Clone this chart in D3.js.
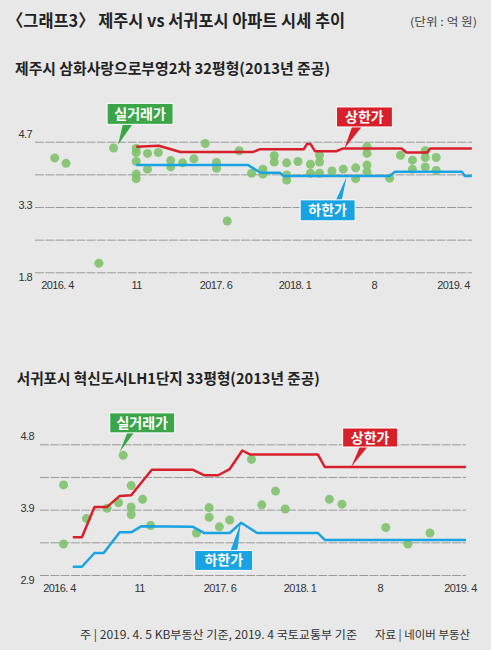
<!DOCTYPE html>
<html>
<head>
<meta charset="utf-8">
<script src="https://cdn.jsdelivr.net/npm/d3@7"></script>
<style>
  html, body { margin: 0; padding: 0; background: #e8e8e8; }
  svg { display: block; }
  text { font-family: "Noto Sans CJK KR", "Noto Sans", sans-serif; }
  .tick text { font-family: "Liberation Sans", Arial, sans-serif; font-size: 11px; fill: #333; letter-spacing: -0.6px; }
</style>
</head>
<body>
<script>
// x values are months counted from 2016.4 (=0) to 2019.4 (=36)
const xTickMonths = [0, 7, 14, 21, 28, 36];
const xTickLabels = ['2016. 4', '11', '2017. 6', '2018. 1', '8', '2019. 4'];

// 제주시 삼화사랑으로부영2차 32평형
const jejuTicks = [1.8, 2.525, 3.25, 3.975, 4.7];
const jejuTickLabels = ['1.8', '', '3.3', '', '4.7'];
const jejuUpper = [[7, 4.59], [9, 4.61], [10.9, 4.47], [17.3, 4.47], [17.9, 4.53], [21.8, 4.53], [22.1, 4.65],
  [22.4, 4.65], [22.8, 4.49], [24.7, 4.49], [25.3, 4.55], [30.8, 4.55], [31.3, 4.46], [33.4, 4.46],
  [33.7, 4.55], [37.9, 4.55]];
const jejuLower = [[7, 4.18], [16.9, 4.18], [18.0, 4.01], [19.7, 4.01], [20.0, 3.94], [29.6, 3.94],
  [30.1, 4.03], [36.9, 4.03], [37.2, 3.94], [37.9, 3.94]];
const jejuDeals = [[-0.2, 4.34], [0.8, 4.22], [3.7, 2.0], [5.0, 4.56], [7.0, 4.55], [7.0, 4.46], [7.0, 4.26],
  [7.0, 3.98], [7.0, 3.88], [8.0, 4.44], [8.0, 4.09], [8.95, 4.46], [10.05, 4.28], [10.05, 4.14],
  [11.1, 4.23], [12.1, 4.32], [13.1, 4.66], [14.1, 4.24], [14.1, 4.11], [15.05, 2.94], [16.1, 4.5],
  [17.2, 4.0], [18.2, 4.09], [18.2, 3.98], [19.2, 4.39], [19.2, 4.25], [20.3, 4.23], [20.3, 3.96],
  [20.3, 3.85], [21.3, 4.26], [22.4, 4.2], [22.4, 4.0], [23.2, 4.4], [23.2, 4.25], [23.2, 4.0],
  [24.3, 4.05], [25.3, 4.09], [26.4, 4.12], [26.4, 3.88], [27.4, 4.59], [27.4, 4.44], [27.4, 4.18],
  [27.4, 4.03], [29.6, 3.89], [30.7, 4.4], [31.9, 4.29], [31.9, 4.09], [33.2, 4.5], [33.2, 4.35],
  [33.2, 4.14], [34.3, 4.35], [34.3, 4.06]];

// 서귀포시 혁신도시LH1단지 33평형
const seoTicks = [2.9, 3.375, 3.85, 4.325, 4.8];
const seoTickLabels = ['2.9', '', '3.9', '', '4.8'];
const seoUpper = [[1.2, 3.45], [2.0, 3.45], [3.1, 3.89], [4.2, 3.89], [5.3, 4.05], [6.3, 4.06], [8.1, 4.43],
  [11.7, 4.43], [12.7, 4.35], [13.9, 4.35], [14.9, 4.44], [16.0, 4.71], [16.7, 4.65], [22.6, 4.65],
  [23.2, 4.47], [36.6, 4.47]];
const seoLower = [[1.2, 3.02], [2.0, 3.02], [3.1, 3.22], [3.9, 3.22], [5.3, 3.52], [6.3, 3.52], [7.2, 3.61],
  [11.7, 3.6], [12.7, 3.51], [14.9, 3.51], [15.9, 3.66], [17.3, 3.51], [22.6, 3.51], [23.2, 3.41],
  [36.6, 3.41]];
const seoDeals = [[0.4, 4.21], [0.4, 3.35], [2.4, 3.72], [4.2, 3.87], [5.2, 3.95], [5.6, 4.64], [6.3, 4.2],
  [6.3, 3.89], [6.3, 3.78], [7.3, 4.0], [8.0, 3.62], [12.0, 3.51], [13.1, 3.88], [13.1, 3.74],
  [14.0, 3.6], [14.9, 3.7], [16.8, 4.58], [17.7, 3.92], [18.9, 4.12], [19.75, 3.86], [23.6, 4.0],
  [24.7, 3.93], [28.6, 3.59], [30.8, 3.35], [33.0, 3.51]];

const W = 491, H = 650;
const green = '#3ba548', red = '#d7202a', blue = '#19a3e2';

const svg = d3.select('body').append('svg').attr('width', W).attr('height', H);
svg.append('rect').attr('width', W).attr('height', H).attr('fill', '#e8e8e8');

svg.append('text').attr('x', 7).attr('y', 27)
  .attr('font-size', 17).attr('font-weight', 700).attr('fill', '#222')
  .attr('textLength', 338).attr('lengthAdjust', 'spacingAndGlyphs')
  .text('〈그래프3〉 제주시 vs 서귀포시 아파트 시세 추이');
svg.append('text').attr('x', 410).attr('y', 26)
  .attr('font-size', 11).attr('fill', '#444')
  .attr('textLength', 67).attr('lengthAdjust', 'spacingAndGlyphs')
  .text('(단위 : 억 원)');

function drawChart(c) {
  const g = svg.append('g');
  g.append('text').attr('x', c.titleX).attr('y', c.titleY)
    .attr('font-size', 15).attr('font-weight', 700).attr('fill', '#222')
    .attr('textLength', c.titleW).attr('lengthAdjust', 'spacingAndGlyphs')
    .text(c.title);

  const x = d3.scaleLinear()
    .domain(xTickMonths)
    .range(xTickMonths.map((d, i) => c.x0 + i * c.step));
  const y = d3.scaleLinear().domain([c.ticks[0], c.ticks[4]]).range([c.bottom, c.top]);

  const yAxis = d3.axisLeft(y).tickValues(c.ticks)
    .tickFormat((d, i) => c.tickLabels[i])
    .tickSizeInner(-(c.right - c.left)).tickSizeOuter(0).tickPadding(c.pad);
  const ya = g.append('g').attr('transform', `translate(${c.left},0)`).call(yAxis);
  ya.select('.domain').remove();
  ya.selectAll('.tick line').attr('stroke', '#9a9a9a').attr('stroke-dasharray', '9,1.3');
  const labelShift = [5, 0, -2, 0, -8];
  ya.selectAll('.tick text').attr('y', (d, i) => labelShift[i]);

  const xAxis = d3.axisBottom(x).tickValues(xTickMonths)
    .tickFormat((d, i) => xTickLabels[i]).tickSize(0).tickPadding(9);
  const xa = g.append('g').attr('transform', `translate(0,${c.bottom})`).call(xAxis);
  xa.select('.domain').remove();

  g.append('g').selectAll('circle').data(c.deals).join('circle')
    .attr('cx', d => x(d[0])).attr('cy', d => y(d[1])).attr('r', 4.5)
    .attr('fill', '#7fc26b').attr('fill-opacity', 0.9);

  const line = d3.line().x(d => x(d[0])).y(d => y(d[1]));
  g.append('path').attr('d', line(c.upper)).attr('fill', 'none')
    .attr('stroke', red).attr('stroke-width', 2.5).attr('stroke-linejoin', 'round');
  g.append('path').attr('d', line(c.lower)).attr('fill', 'none')
    .attr('stroke', blue).attr('stroke-width', 2.5).attr('stroke-linejoin', 'round');

  c.callouts.forEach(o => {
    const tx = x(o.tip[0]), ty = y(o.tip[1]);
    const cx = tx + o.dx, cy = ty + o.dy;
    const ey = o.dy < 0 ? cy + o.h / 2 - 1 : cy - o.h / 2 + 1;
    g.append('path')
      .attr('d', `M${cx + o.base[0]},${ey}L${tx},${ty}L${cx + o.base[1]},${ey}Z`)
      .attr('fill', o.color);
    g.append('rect').attr('x', cx - o.w / 2).attr('y', cy - o.h / 2)
      .attr('width', o.w).attr('height', o.h)
      .attr('fill', o.color).attr('stroke', '#fff').attr('stroke-width', 1);
    g.append('text').attr('x', cx).attr('y', cy + 5)
      .attr('text-anchor', 'middle').attr('font-size', 14).attr('font-weight', 700)
      .attr('fill', '#fff').text(o.label);
  });
}

drawChart({
  title: '제주시 삼화사랑으로부영2차 32평형(2013년 준공)', titleX: 15, titleY: 74, titleW: 315,
  top: 141.7, bottom: 272.3, left: 35, right: 472, x0: 57, step: 79.2, pad: 3,
  ticks: jejuTicks, tickLabels: jejuTickLabels,
  upper: jejuUpper, lower: jejuLower, deals: jejuDeals,
  callouts: [
    {label: '실거래가', color: green, tip: [5.4, 4.63], dx: 22, dy: -31, w: 66, h: 21, base: [-17, -7]},
    {label: '상한가', color: red, tip: [25.4, 4.55], dx: 20, dy: -31.5, w: 56, h: 20, base: [-12, -2]},
    {label: '하한가', color: blue, tip: [25.6, 3.92], dx: -19, dy: 33.5, w: 55, h: 21, base: [8, 14]}
  ]
});

drawChart({
  title: '서귀포시 혁신도시LH1단지 33평형(2013년 준공)', titleX: 16.7, titleY: 384, titleW: 303,
  top: 444.3, bottom: 575, left: 40, right: 466, x0: 59, step: 80.2, pad: 6,
  ticks: seoTicks, tickLabels: seoTickLabels,
  upper: seoUpper, lower: seoLower, deals: seoDeals,
  callouts: [
    {label: '실거래가', color: green, tip: [5.3, 4.69], dx: 22.5, dy: -29, w: 65, h: 20, base: [-14.5, -7.5]},
    {label: '상한가', color: red, tip: [25.5, 4.47], dx: 19, dy: -29.5, w: 55, h: 19, base: [-10, -2]},
    {label: '하한가', color: blue, tip: [15.86, 3.66], dx: -17, dy: 37.7, w: 58, h: 20, base: [6.5, 13.5]}
  ]
});

svg.append('text').attr('x', 80).attr('y', 639)
  .attr('font-size', 11.5).attr('fill', '#333')
  .attr('textLength', 277).attr('lengthAdjust', 'spacingAndGlyphs')
  .text('주 | 2019. 4. 5 KB부동산 기준, 2019. 4 국토교통부 기준');
svg.append('text').attr('x', 375).attr('y', 639)
  .attr('font-size', 11.5).attr('fill', '#333')
  .attr('textLength', 95).attr('lengthAdjust', 'spacingAndGlyphs')
  .text('자료 | 네이버 부동산');
</script>
</body>
</html>
